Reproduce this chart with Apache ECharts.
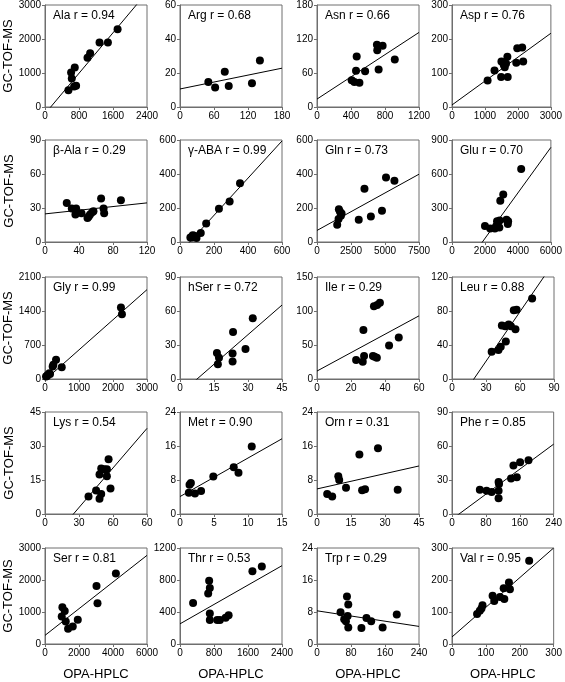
<!DOCTYPE html>
<html><head><meta charset="utf-8">
<script src="https://cdn.jsdelivr.net/npm/echarts@6/dist/echarts.min.js"></script>
<style>html,body{margin:0;padding:0;background:#fff}#c{width:565px;height:682px}</style>
</head><body><div id="c"></div>
<script>
const names = ['Ala','Arg','Asn','Asp','β-Ala','γ-ABA','Gln','Glu','Gly','hSer','Ile','Leu','Lys','Met','Orn','Phe','Ser','Thr','Trp','Val'];
const rValues = ['0.94','0.68','0.66','0.76','0.29','0.99','0.73','0.70','0.99','0.72','0.29','0.88','0.54','0.90','0.31','0.85','0.81','0.53','0.29','0.95'];
const xMax = [2400,180,1200,3000,120,600,7500,6000,3000,45,60,90,90,15,45,240,6000,2400,240,300];
const xInterval = [800,60,400,1000,40,200,2500,2000,1000,15,20,30,30,5,15,80,2000,800,80,100];
const yMax = [3000,60,180,300,90,600,600,900,2100,90,150,120,45,24,24,90,3000,1200,24,300];
const yInterval = [1000,20,60,100,30,200,200,300,700,30,50,40,15,8,8,30,1000,400,8,100];
const lysXTickLabels = ['0','30','60','60'];
const fitIntercept = [-199,10.6,14,6,24.8,-62,68,-370,-20,-13.1,11.7,-37.5,-14.6,4.1,5.9,-4.6,270,252,8.3,22];
const fitSlope = [1.489,0.068,0.098,0.0703,0.081,1.094,0.0441,0.2008,0.62,1.741,1.353,1.945,0.582,0.907,0.12,0.276,0.4167,0.303,-0.01625,0.927];

const ala = [[1708,2286],[1283,1895],[1480,1895],[1000,1446],[1062,1583],[614,1016],[700,1163],[630,840],[551,489],[732,625],[685,606]];
const arg = [[50,14.7],[62,11.5],[79,20.7],[86,12.3],[127,13.9],[141,27.4]];
const asn = [[705,110],[772,108],[709,100],[467,89],[915,84],[459,64],[566,63],[725,66],[408,47],[440,44],[499,43]];
const asp = [[1080,78],[1290,107],[1500,134],[1570,124],[1600,117],[1640,128],[1680,148],[1490,88],[1690,88],[1950,130],[1980,173],[2130,175],[2160,134]];
const bAla = [[25.6,34.5],[31.5,29.5],[36.6,29.5],[35.8,24.2],[42.9,25.4],[50,21.2],[53,24.2],[57,27.1],[66,38.4],[68.9,29.5],[69.6,25.4],[89.3,36.9],[55.5,26.3],[51.5,22.4]];
const gABA = [[353,346],[292,238],[229,195],[154,109],[122,53],[87,33],[71,27],[61,27],[85,37],[97,23],[75,40]];
const gln = [[5074,379],[5693,361],[3490,313],[4777,184],[3960,150],[3069,131],[1609,193],[1683,180],[1807,168],[1757,154],[1584,135],[1485,102]];
const glu = [[4198,645],[3109,419],[2930,363],[2000,141],[2317,120],[2673,138],[2733,182],[2891,190],[2871,129],[3307,196],[3386,158],[3406,182],[2600,120]];
const gly = [[2234,1473],[2263,1334],[492,243],[325,396],[246,292],[226,257],[128,118],[79,83],[30,49],[148,104],[60,60]];
const hSer = [[32.1,53.6],[23.4,41.4],[28.9,26.5],[16.3,23],[23.2,22.4],[17.2,18.8],[16.7,13.1],[23.2,15.5]];
const ile = [[37,112],[35.4,109],[33.5,107],[27.3,71.9],[48.1,61],[42.4,49.4],[23,27.9],[27.7,33.7],[26.9,25.4],[32.9,33.7],[33.9,32.8],[35.2,31.3]];
const leu = [[70.7,94.6],[54.5,81],[57,81.5],[44,63],[47,62],[50,64],[52,62],[56,58.5],[47.5,44],[43,38],[41,34],[35,32]];
const lys = [[38.4,7.7],[45.1,10.4],[48.1,6.7],[49.6,8.8],[48.1,17.4],[49.6,20.1],[52.2,19.7],[54.6,19.7],[54.6,16.7],[56.1,24.1],[57.8,11.2]];
const met = [[10.55,15.9],[7.9,11],[8.6,9.7],[4.9,8.8],[1.6,7.3],[1.4,6.9],[1.3,5],[2.2,4.8],[3.1,5.4]];
const orn = [[26.9,15.5],[18.7,14],[9.4,8.9],[9.8,8.0],[12.8,6.2],[19.9,5.6],[21.2,5.8],[35.6,5.7],[4.5,4.7],[6.7,4.1]];
const phe = [[180.6,47.4],[160.8,45.6],[145,42.9],[153,32.5],[139.4,31.3],[110,28.3],[111,26.5],[110,20.6],[110,14],[65.7,21.5],[81.6,20.6],[93.5,19.4]];
const ser = [[4170,2200],[3029,1810],[3088,1270],[1023,1150],[1161,1030],[984,860],[1220,700],[1928,760],[1633,550],[1357,480]];
const thr = [[308,512],[686,792],[702,700],[663,632],[702,380],[702,300],[876,300],[939,300],[1073,328],[1144,360],[1704,908],[1925,968]];
const trp = [[70.5,11.9],[73.6,9.9],[55.4,7.95],[72,7],[64,6.2],[68,5.7],[73.6,4.1],[104.5,4],[116.4,6.5],[127.5,5.7],[154.4,4.1],[187.7,7.4]];
const val = [[227.7,260],[168,192],[171,171],[152.5,174],[154.4,141],[141.6,147],[119.8,151],[124.7,134],[90,121],[87,111],[82,104],[74,94]];
const panelPoints = [ala,arg,asn,asp,bAla,gABA,gln,glu,gly,hSer,ile,leu,lys,met,orn,phe,ser,thr,trp,val];

const colLeft = [45,180,317,452];
const rowTop = [5,140,277,412,548];
const W = 102, H = 102;
const FONT = 'Liberation Sans, Arial, sans-serif';
const frame = '#6e6e6e';

const grid = [], xAxis = [], yAxis = [], series = [], title = [];
names.forEach((nm, i) => {
  const r = Math.floor(i / 4), c = i % 4;
  grid.push({left: colLeft[c], top: rowTop[r], width: W, height: H, show: true, borderColor: frame, borderWidth: 1, backgroundColor: 'transparent'});
  const isLys = nm === 'Lys';
  xAxis.push({
    type: 'value', gridIndex: i, min: 0, max: xMax[i], interval: xInterval[i],
    axisLine: {show: true, onZero: false, lineStyle: {color: frame}},
    axisTick: {show: true, length: 3, lineStyle: {color: frame}},
    splitLine: {show: false},
    axisLabel: {fontSize: 10, color: '#000', fontFamily: FONT, margin: 4, showMinLabel: true, showMaxLabel: true,
      formatter: v => isLys ? lysXTickLabels[Math.round(v / xInterval[i])] : String(v)},
    name: r === 4 ? 'OPA-HPLC' : '', nameLocation: 'middle', nameGap: 24,
    nameTextStyle: {fontSize: 13, color: '#000', fontFamily: FONT}
  });
  yAxis.push({
    type: 'value', gridIndex: i, min: 0, max: yMax[i], interval: yInterval[i],
    axisLine: {show: true, onZero: false, lineStyle: {color: frame}},
    axisTick: {show: true, length: 3, lineStyle: {color: frame}},
    splitLine: {show: false},
    axisLabel: {fontSize: 10, color: '#000', fontFamily: FONT, margin: 4, showMinLabel: true, showMaxLabel: true,
      formatter: v => String(v)},
    name: c === 0 ? 'GC-TOF-MS' : '', nameLocation: 'middle', nameGap: 29,
    nameTextStyle: {fontSize: 13, color: '#000', fontFamily: FONT}
  });
  title.push({text: nm + ' r = ' + rValues[i], left: colLeft[c] + 8, top: rowTop[r] + 5,
    textStyle: {fontSize: 12, fontWeight: 'normal', color: '#000', fontFamily: FONT}, padding: 0});
  series.push({type: 'scatter', xAxisIndex: i, yAxisIndex: i, data: panelPoints[i], symbolSize: 8,
    itemStyle: {color: '#000', opacity: 1}, silent: true, z: 3});
  series.push({type: 'line', xAxisIndex: i, yAxisIndex: i, clip: true, symbol: 'none', silent: true,
    data: [[0, fitIntercept[i]], [xMax[i], fitIntercept[i] + fitSlope[i] * xMax[i]]],
    lineStyle: {color: '#000', width: 1}, z: 2});
});

const chart = echarts.init(document.getElementById('c'), null, {renderer: 'canvas'});
chart.setOption({animation: false, backgroundColor: '#fff', title, grid, xAxis, yAxis, series});
</script></body></html>
